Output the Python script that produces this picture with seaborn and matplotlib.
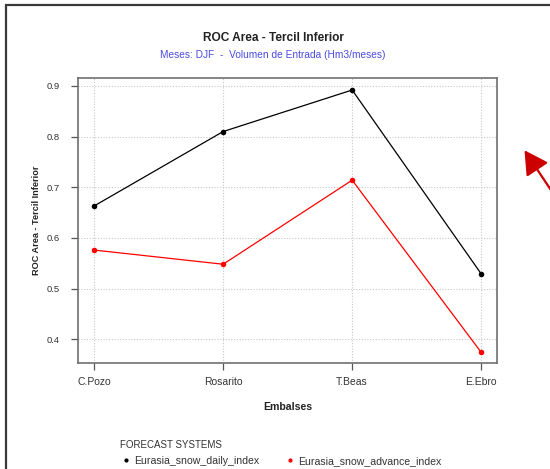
import matplotlib
matplotlib.use("Agg")
import matplotlib.pyplot as plt
from matplotlib.lines import Line2D
from matplotlib.patches import Rectangle, FancyArrowPatch
import seaborn as sns
import pandas as pd

embalses = ["C.Pozo", "Rosarito", "T.Beas", "E.Ebro"]
daily_index = [0.663, 0.810, 0.892, 0.529]
advance_index = [0.576, 0.548, 0.714, 0.374]
systems = ["Eurasia_snow_daily_index", "Eurasia_snow_advance_index"]
colors = ["#000000", "#ff0000"]

df = pd.DataFrame({
    "Embalse": embalses * 2,
    "pos": list(range(len(embalses))) * 2,
    "ROC": daily_index + advance_index,
    "Sistema": [systems[0]] * 4 + [systems[1]] * 4,
})

sns.set_style("white")
plt.rcParams["font.family"] = ["Liberation Sans", "DejaVu Sans"]

fig = plt.figure(figsize=(5.5, 4.69), dpi=100)
ax = fig.add_axes([0.142, 0.226, 0.762, 0.608])

sns.lineplot(data=df, x="pos", y="ROC", hue="Sistema", palette=colors,
             marker="o", markersize=4, markeredgewidth=0, linewidth=0.9,
             legend=False, ax=ax)

ax.set_xlim(-0.124, 3.124)
ax.set_ylim(0.353, 0.916)
ax.set_xticks(range(len(embalses)))
ax.set_xticklabels(embalses)
ax.set_yticks([0.4, 0.5, 0.6, 0.7, 0.8, 0.9])
ax.set_yticklabels(["0.4", "0.5", "0.6", "0.7", "0.8", "0.9"])
ax.grid(True, color="#c8c8c8", linestyle=(0, (1, 1.5)), linewidth=0.8)
for s in ax.spines.values():
    s.set_color("#707070")
    s.set_linewidth(1.2)
ax.tick_params(axis="both", which="both", direction="out", length=5, width=0.9,
               color="#555555", labelcolor="#333333", pad=5,
               left=True, bottom=True)
ax.tick_params(axis="x", labelsize=7.5)
ax.tick_params(axis="y", labelsize=6.8, pad=8)
ax.set_xlabel("Embalses", fontsize=7.6, fontweight="bold", color="#222222", labelpad=11)
ax.set_ylabel("ROC Area - Tercil Inferior", fontsize=6.6, fontweight="bold", color="#222222", labelpad=4)

fig.text(273 / 550, 1 - 38 / 469, "ROC Area - Tercil Inferior", ha="center", va="center",
         fontsize=8.6, fontweight="bold", color="#222222")
fig.text(273 / 550, 1 - 55 / 469, "Meses: DJF  -  Volumen de Entrada (Hm3/meses)",
         ha="center", va="center", fontsize=7.3, color="#4a4ae0")

handles = [Line2D([], [], linestyle="none", marker="o", markersize=3,
                  markeredgewidth=0, color=c) for c in colors]
leg = fig.legend(handles, systems, loc="upper left", bbox_to_anchor=(116 / 550, 1 - 436 / 469),
                 ncol=2, frameon=False, title="FORECAST SYSTEMS", fontsize=7.6,
                 title_fontsize=7, alignment="left", handletextpad=0.3,
                 columnspacing=2.4, handlelength=1.0, borderaxespad=0, labelspacing=0.2)
leg._legend_box.sep = 4
for t in leg.get_texts():
    t.set_color("#333333")
leg.get_title().set_color("#333333")

# outer frame (top and left edges visible)
fig.add_artist(Rectangle((6 / 550, -0.1), 1.2, 1.1 - 5 / 469, transform=fig.transFigure,
                         fill=False, edgecolor="#3a3a3a", linewidth=1.6, clip_on=False))

# red arrow on the right
fig.add_artist(FancyArrowPatch(
    (1.01, 1 - 197 / 469), (523 / 550, 1 - 148 / 469), transform=fig.transFigure,
    arrowstyle="-|>,head_length=9,head_width=5", color="#cc0000", linewidth=1.6,
    mutation_scale=1.6))

fig.savefig("out.png", dpi=100)
